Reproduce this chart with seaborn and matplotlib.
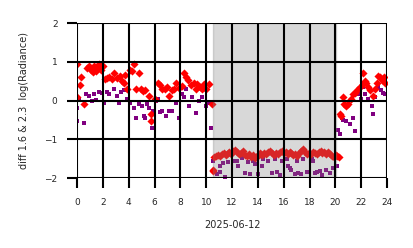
import matplotlib
matplotlib.use("Agg")
import matplotlib.pyplot as plt
import seaborn as sns
import pandas as pd

# ---- data (hours of day, diff log radiance) ----
red_t = [0.0, 0.02, 0.23, 0.3, 0.55, 0.77, 0.9, 1.05, 1.2, 1.35, 1.47, 1.6, 1.7, 1.85, 2.0,
         2.2, 2.35, 2.5, 2.7, 2.86, 3.1, 3.3, 3.45, 3.6, 3.75, 3.9, 4.1, 4.25, 4.4, 4.6,
         4.8, 4.95, 5.1, 5.3, 5.6, 5.7, 5.75, 6.0, 6.3, 6.45, 6.6, 6.8, 6.95, 7.1, 7.35,
         7.5, 7.65, 7.9, 8.1, 8.3, 8.45, 8.6, 8.8, 9.05, 9.2, 9.3, 9.5, 9.7, 9.85, 10.0,
         10.2, 10.45,
         10.5, 10.55, 10.6, 10.75, 10.9, 11.05, 11.2, 11.35, 11.5, 11.65, 11.8, 11.95, 12.1,
         12.25, 12.4, 12.55, 12.7, 12.85, 13.0, 13.15, 13.3, 13.45, 13.6, 13.75, 13.9, 14.05,
         14.2, 14.35, 14.5, 14.65, 14.8, 14.95, 15.1, 15.25, 15.4, 15.55, 15.7, 15.85, 16.0,
         16.15, 16.3, 16.45, 16.6, 16.75, 16.9, 17.05, 17.2, 17.35, 17.5, 17.65, 17.8, 17.95,
         18.1, 18.25, 18.4, 18.55, 18.7, 18.85, 19.0, 19.15, 19.3, 19.45, 19.6, 19.75, 19.9,
         20.05, 20.15, 20.3,
         20.35, 20.45, 20.6, 20.7, 20.85, 21.0, 21.2, 21.4, 21.55, 21.7, 21.9, 22.1, 22.15,
         22.3, 22.4, 22.55, 22.7, 22.9, 23.05, 23.2, 23.3, 23.45, 23.6, 23.75, 23.85]
red_v = [0.95, 0.1, 0.4, 0.6, -0.08, 0.85, 0.9, 0.8, 0.75, 0.88, 0.77, 0.85, 0.95, 0.8, 0.9,
         0.55, 0.57, 0.6, 0.55, 0.72, 0.57, 0.64, 0.5, 0.46, 0.65, 0.3, 0.8, 0.77, 0.95, 0.3,
         0.7, 0.3, 0.25, 0.26, 0.13, -0.34, -0.52, 0.05, 0.45, 0.39, 0.3, 0.3, 0.35, 0.13, 0.26,
         0.3, 0.46, 0.33, 0.38, 0.7, 0.62, 0.52, 0.39, 0.45, 0.3, 0.44, 0.35, 0.3, 0.44, 0.3,
         0.44, -0.08,
         -1.8, -1.82, -1.45, -1.42, -1.4, -1.43, -1.38, -1.36, -1.4, -1.35, -1.33, -1.38, -1.3,
         -1.27, -1.33, -1.38, -1.35, -1.3, -1.4, -1.42, -1.38, -1.45, -1.4, -1.47, -1.42, -1.4,
         -1.36, -1.4, -1.35, -1.38, -1.33, -1.3, -1.36, -1.4, -1.35, -1.38, -1.32, -1.3, -1.35,
         -1.33, -1.38, -1.34, -1.36, -1.4, -1.37, -1.42, -1.35, -1.3, -1.25, -1.33, -1.38, -1.35,
         -1.37, -1.32, -1.35, -1.38, -1.33, -1.3, -1.35, -1.32, -1.37, -1.34, -1.38, -1.42, -1.45,
         -1.4, -1.42, -1.45,
         -0.34, -0.4, 0.08, -0.08, -0.13, -0.1, 0.05, 0.18, 0.2, 0.26, 0.35, 0.44, 0.7,
         0.5, 0.46, 0.35, 0.26, 0.13, 0.3, 0.46, 0.64, 0.6, 0.52, 0.6, 0.46]

purple_t = [0.0, 0.02, 0.15, 0.54, 0.7, 0.93, 1.16, 1.3, 1.5, 1.7, 1.9, 2.1, 2.3, 2.5, 2.86,
            3.1, 3.25, 3.4, 3.6, 3.9, 4.1, 4.4, 4.6, 4.8, 5.0, 5.2, 5.3, 5.4, 5.6, 5.8, 5.9,
            6.1, 6.3, 6.45, 6.6, 6.9, 7.1, 7.35, 7.66, 7.9, 8.1, 8.3, 8.45, 8.7, 8.9, 9.2,
            9.45, 9.7, 10.0, 10.2, 10.4,
            10.5, 10.8, 11.07, 11.1, 11.3, 11.45, 11.7, 12.1, 12.4, 12.45, 12.8, 13.0, 13.2,
            13.4, 13.6, 13.8, 14.0, 14.3, 14.4, 14.8, 15.1, 15.3, 15.5, 15.7, 15.9, 16.25,
            16.35, 16.5, 16.6, 16.9, 17.0, 17.1, 17.3, 17.5, 17.8, 18.2, 18.3, 18.4, 18.6,
            18.8, 19.0, 19.3, 19.6, 19.8, 20.1,
            20.2, 20.35, 20.5, 20.6, 20.8, 21.1, 21.4, 21.5, 21.8, 22.0, 22.15, 22.3, 22.5,
            22.8, 22.9, 23.1, 23.3, 23.5, 23.7, 23.85]
purple_v = [-0.18, -0.52, 0.05, -0.57, 0.18, 0.13, 0.0, 0.18, 0.02, 0.23, 0.2, -0.05, 0.21, 0.18, 0.3,
            0.13, -0.05, 0.21, 0.26, 0.05, -0.05, -0.2, -0.44, -0.1, -0.13, -0.39, -0.44, -0.08, -0.2, -0.72, -0.26,
            0.0, 0.05, -0.3, -0.26, -0.39, -0.26, -0.26, -0.05, -0.46, 0.18, 0.1, 0.3, -0.13, 0.08, -0.31,
            0.0, 0.08, -0.13, -0.05, -0.7,
            -1.55, -1.9, -1.68, -1.85, -1.6, -1.96, -1.58, -1.57, -1.55, -1.7, -1.48, -1.88, -1.58,
            -1.9, -1.55, -1.63, -1.9, -1.7, -1.5, -1.55, -1.88, -1.5, -1.85, -1.92, -1.55, -1.5,
            -1.7, -1.75, -1.8, -1.9, -1.55, -1.88, -1.9, -1.5, -1.85, -1.5, -1.55, -1.88, -1.85,
            -1.83, -1.93, -1.8, -1.88, -1.75, -1.7,
            -0.77, -0.85, -0.44, -0.5, -0.52, -0.6, -0.46, -0.78, 0.18, 0.05, 0.34, 0.18, 0.05,
            -0.13, -0.34, 0.1, 0.34, 0.26, 0.2, 0.18]

night_start, night_end = 10.5, 20.05
xticks = list(range(0, 25, 2))
yticks = [-2, -1, 0, 1, 2]

df_red = pd.DataFrame({"hour": red_t, "diff": red_v})
df_pur = pd.DataFrame({"hour": purple_t, "diff": purple_v})

sns.set_style("white")
fig = plt.figure(figsize=(4.14, 2.48), dpi=100)
ax = fig.add_axes([0.186, 0.282, 0.749, 0.625])

sns.scatterplot(data=df_red, x="hour", y="diff", marker="D", color="#ff0000",
                s=17, linewidth=0, ax=ax, zorder=1.6)
sns.scatterplot(data=df_pur, x="hour", y="diff", marker="s", color="#800080",
                s=10, linewidth=0, ax=ax, zorder=1.5)
ax.axvspan(night_start, night_end, color="grey", alpha=0.3, zorder=2)

ax.set_xlim(0, 24)
ax.set_ylim(-2, 2)
ax.set_xticks(xticks)
ax.set_yticks(yticks)
ax.set_axisbelow(False)
ax.grid(True, color="black", linewidth=1.5)
for s in ax.spines.values():
    s.set_visible(False)
ax.tick_params(axis="both", which="major", length=7, width=1.5, color="black",
               labelsize=6.5, bottom=True, left=True)
ax.tick_params(axis="x", pad=7)
ax.tick_params(axis="y", pad=7)
ax.set_xlabel("2025-06-12", fontsize=7, labelpad=10)
ax.set_ylabel("diff 1.6 & 2.3  log(Radiance)", fontsize=7, labelpad=11)

fig.savefig("out.png", dpi=100)
